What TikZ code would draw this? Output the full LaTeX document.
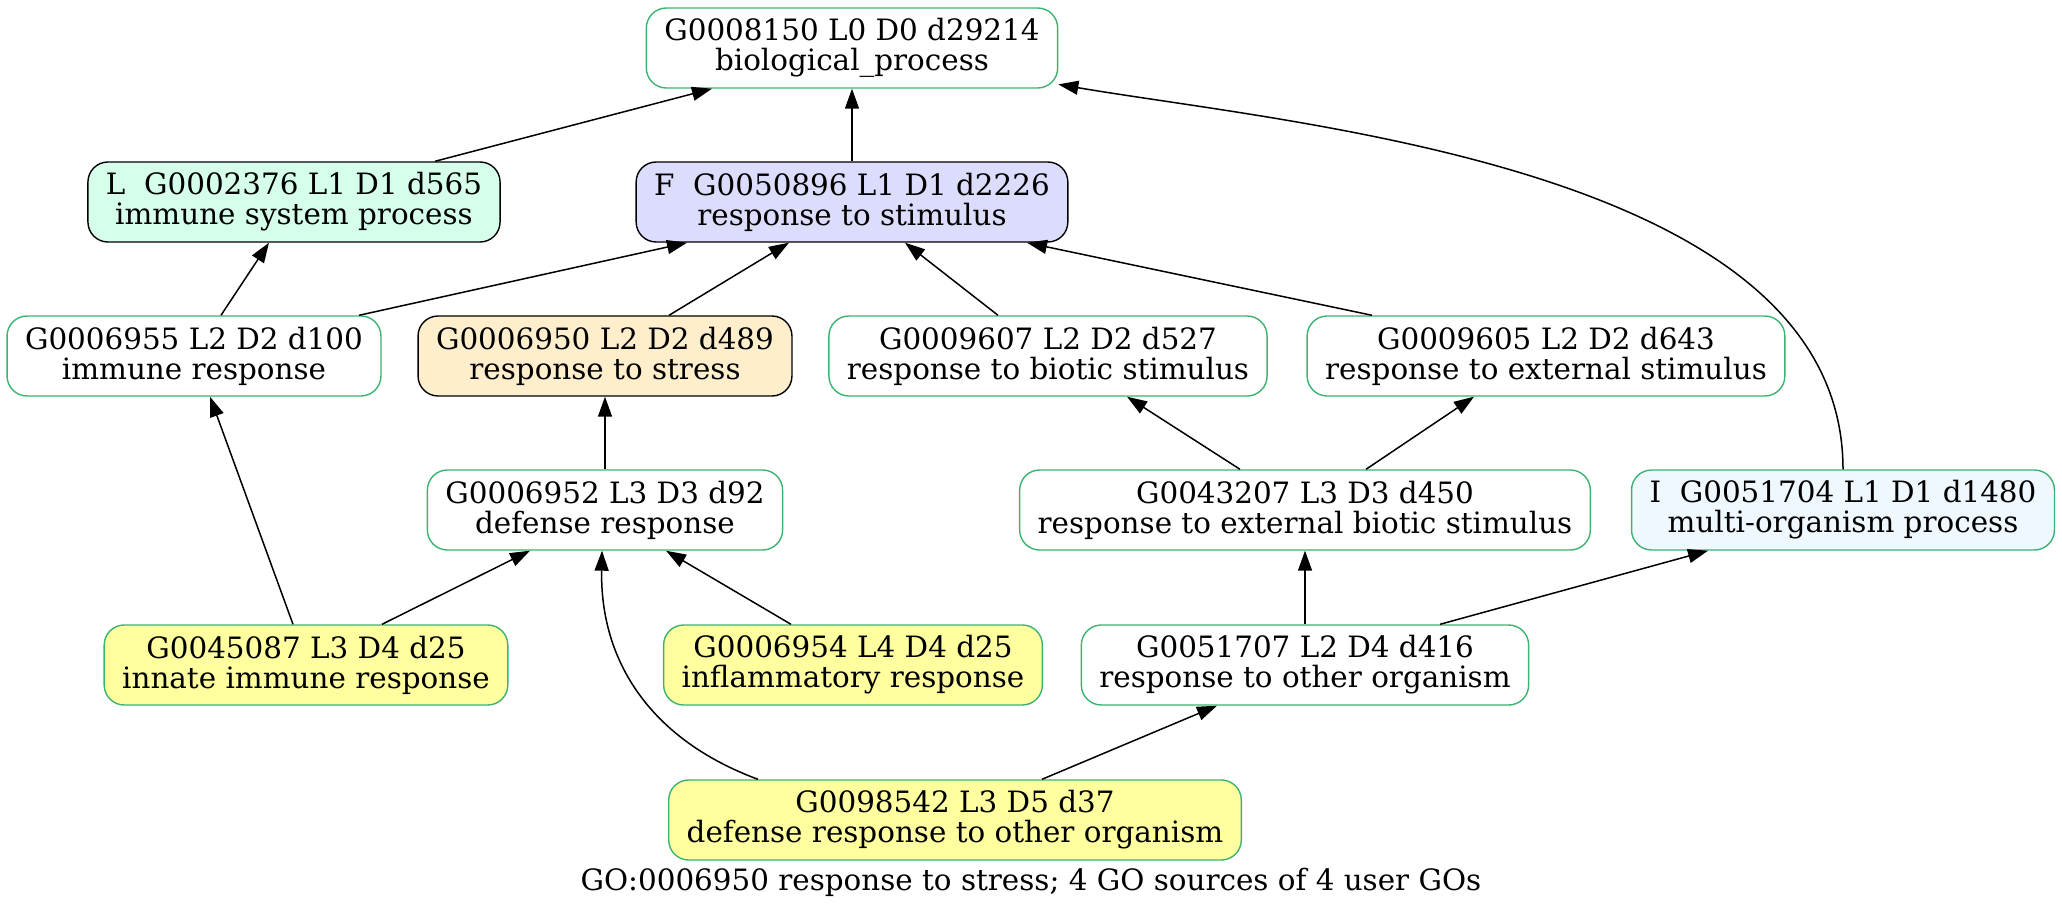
\documentclass[tikz,border=0pt]{standalone}
\usepackage{fontspec}
\setmainfont{DejaVu Serif}
\usepackage{tikz}
\usetikzlibrary{arrows.meta,calc}

\definecolor{srcgreen}{HTML}{3CB371}
\definecolor{lfill}{HTML}{D5FFEB}
\definecolor{ffill}{HTML}{DCDCFC}
\definecolor{stressfill}{HTML}{FFEECC}
\definecolor{userfill}{HTML}{FFFFA0}
\definecolor{ifill}{HTML}{F0F8FF}
\newcommand{\gofont}{\fontsize{14.7}{15}\selectfont}

\begin{document}
\begin{tikzpicture}[->,>={Triangle[length=10pt,width=7pt]},x=0.5pt,y=0.5pt,
        line width=0.75pt,
        goterm/.style={rectangle,rounded corners=10pt,draw=srcgreen,fill=white,
          line width=0.7pt,minimum height=40pt,inner xsep=9pt,align=center,font=\gofont},
        hdr/.style={goterm,draw=black},
        usergo/.style={goterm,fill=userfill}]

  \useasboundingbox (0,0) rectangle (2062,-915);

  \node[goterm] (g8150) at (852,-48) {G0008150 L0 D0 d29214\\biological\_process};
  \node[hdr,fill=lfill] (g2376) at (294,-202) {L~~G0002376 L1 D1 d565\\immune system process};
  \node[hdr,fill=ffill] (g50896) at (852,-202) {F~~G0050896 L1 D1 d2226\\response to stimulus};
  \node[goterm] (g6955) at (194,-356) {G0006955 L2 D2 d100\\immune response};
  \node[hdr,fill=stressfill] (g6950) at (605,-356) {G0006950 L2 D2 d489\\response to stress};
  \node[goterm] (g9607) at (1048,-356) {G0009607 L2 D2 d527\\response to biotic stimulus};
  \node[goterm] (g9605) at (1546,-356) {G0009605 L2 D2 d643\\response to external stimulus};
  \node[goterm] (g6952) at (605,-510) {G0006952 L3 D3 d92\\defense response};
  \node[goterm] (g43207) at (1305,-510) {G0043207 L3 D3 d450\\response to external biotic stimulus};
  \node[goterm,fill=ifill] (g51704) at (1843,-510) {I~~G0051704 L1 D1 d1480\\multi-organism process};
  \node[usergo] (g45087) at (306,-665) {G0045087 L3 D4 d25\\innate immune response};
  \node[usergo] (g6954) at (853,-665) {G0006954 L4 D4 d25\\inflammatory response};
  \node[goterm] (g51707) at (1305,-665) {G0051707 L2 D4 d416\\response to other organism};
  \node[usergo] (g98542) at (955,-820) {G0098542 L3 D5 d37\\defense response to other organism};

  \node[font=\gofont] (caption) at (1031,-882) {GO:0006950 response to stress; 4 GO sources of 4 user GOs};

  \path ($(g2376.north)+(141,0)$) edge ($(g8150.south)+(-140,0)$)
        (g50896.north) edge (g8150.south)
        ($(g6955.north)+(27,0)$) edge ($(g2376.south)+(-25,0)$)
        ($(g6955.north)+(165,0)$) edge ($(g50896.south)+(-165,0)$)
        ($(g6950.north)+(64,0)$) edge ($(g50896.south)+(-63,0)$)
        ($(g9607.north)+(-50,0)$) edge ($(g50896.south)+(53,0)$)
        ($(g9605.north)+(-174,0)$) edge ($(g50896.south)+(175,0)$)
        ($(g45087.north)+(-13,0)$) edge ($(g6955.south)+(16,0)$)
        ($(g45087.north)+(76,0)$) edge ($(g6952.south)+(-75,0)$)
        ($(g6954.north)+(-62,0)$) edge ($(g6952.south)+(61,0)$)
        (g6952.north) edge (g6950.south)
        ($(g43207.north)+(-65,0)$) edge ($(g9607.south)+(79,0)$)
        ($(g43207.north)+(61,0)$) edge ($(g9605.south)+(-72,0)$)
        (g51707.north) edge (g43207.south)
        ($(g51707.north)+(135,0)$) edge ($(g51704.south)+(-135,0)$)
        ($(g98542.north)+(87,0)$) edge ($(g51707.south)+(-88,0)$);

  % curved links
  \draw (g51704.north) .. controls +(0,300) and +(242,-41) .. (g8150.-10);
  \draw ($(g98542.north)+(-197,0)$) .. controls +(-108,40) and +(-2,-110) .. ($(g6952.south)+(-3,0)$);

\end{tikzpicture}
\end{document}
